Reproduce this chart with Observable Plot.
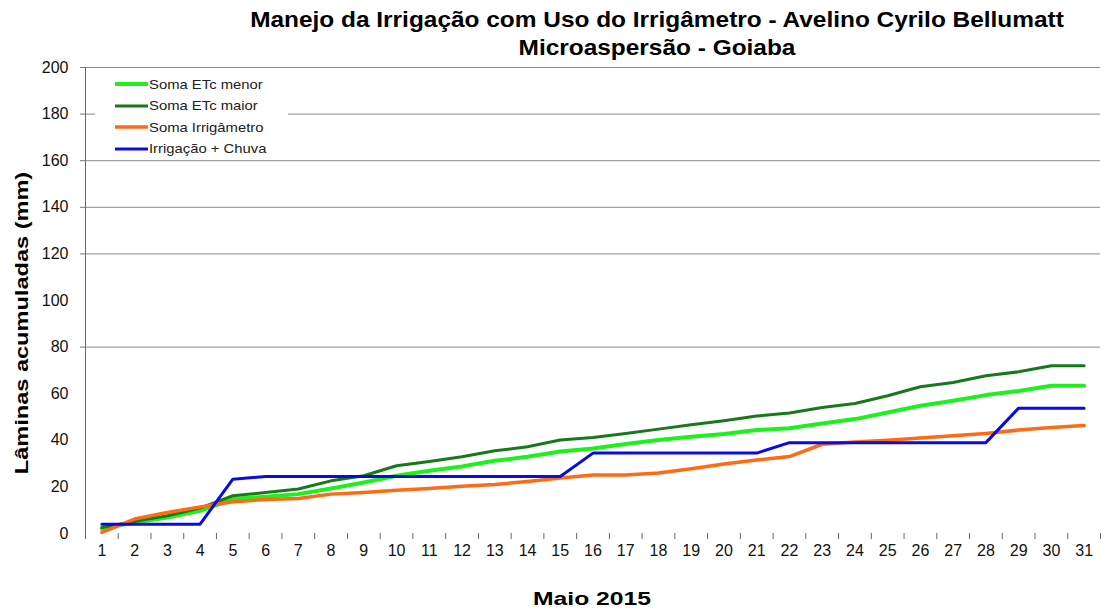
<!DOCTYPE html>
<html>
<head>
<meta charset="utf-8">
<script src="https://cdn.jsdelivr.net/npm/d3@7"></script>
<script src="https://cdn.jsdelivr.net/npm/@observablehq/plot@0.6"></script>
<style>
  html, body { margin: 0; padding: 0; background: #fff; }
  #wrap { position: relative; width: 1108px; height: 612px; font-family: "Liberation Sans", Arial, sans-serif; color: #000; overflow: hidden; }
  #title { position: absolute; left: 0; width: 1108px; top: 6px; text-align: center; font-weight: bold; font-size: 22px; line-height: 28px; padding-left: 206px; box-sizing: border-box; }
  #title div { transform: scaleX(1.11); }
  #chart { position: absolute; left: 0; top: 60px; }
  #ylabel { position: absolute; left: 22px; top: 323px; transform: translate(-50%, -50%) rotate(-90deg) scaleX(1.24); font-weight: bold; font-size: 19px; white-space: nowrap; }
  #xlabel { position: absolute; left: 592px; top: 599px; transform: translate(-50%, -50%) scaleX(1.3); font-weight: bold; font-size: 19px; white-space: nowrap; }
  #legend { position: absolute; left: 95px; top: 72px; width: 193px; height: 86px; background: #fff; font-size: 13px; color: #222; }
  #legend .row { position: absolute; left: 20px; height: 20px; display: flex; align-items: center; }
  #legend span { display: inline-block; transform: scaleX(1.14); transform-origin: left center; }
  #legend svg { width: 34px; height: 10px; }
</style>
</head>
<body>
<div id="wrap">
  <div id="title"><div>Manejo da Irrigação com Uso do Irrigâmetro - Avelino Cyrilo Bellumatt</div><div>Microaspersão - Goiaba</div></div>
  <div id="chart"></div>
  <div id="ylabel">Lâminas acumuladas (mm)</div>
  <div id="xlabel">Maio 2015</div>
  <div id="legend"></div>
</div>
<script>
const days = d3.range(1, 32);
const etcMenor = [2.1,4.7,6.9,9.7,14.8,15.8,16.9,19.3,21.9,24.8,26.9,28.8,31.2,32.9,35.2,36.5,38.4,40.1,41.5,42.7,44.4,45.2,47.2,49.1,51.9,54.8,57.0,59.4,61.2,63.4,63.4];
const etcMaior = [2.6,5.2,7.6,10.9,16.2,17.6,19.1,22.6,24.8,29.1,30.9,32.9,35.5,37.2,40.1,41.2,42.9,44.8,46.7,48.4,50.4,51.7,54.1,55.8,59.1,63.0,64.8,67.7,69.4,72.0,72.0];
const irrigametro = [0.5,6.2,9.0,11.4,13.6,14.6,15.0,16.9,17.6,18.6,19.3,20.3,21.0,22.3,23.8,25.1,25.1,26.0,27.8,29.8,31.5,33.0,38.3,39.3,40.0,41.0,42.0,42.9,44.4,45.5,46.4];
const irrigChuva = [4,4,4,4,23.3,24.5,24.5,24.5,24.5,24.5,24.5,24.5,24.5,24.5,24.5,34.5,34.5,34.5,34.5,34.5,34.5,39,39,39,39,39,39,39,53.8,53.8,53.8];

const seriesNames = ["Soma ETc menor", "Soma ETc maior", "Soma Irrigâmetro", "Irrigação + Chuva"];
const seriesColors = ["#1ef01e", "#17791a", "#ff6a13", "#0a0ae6"];
const seriesWidths = [4, 3, 3.5, 3];
const seriesValues = [etcMenor, etcMaior, irrigametro, irrigChuva];

const yTicks = d3.range(0, 201, 20);
const gridVals = [80, 120, 140, 160, 180, 200];
const xBoundaries = d3.range(0.5, 32, 1);

const rows = [];
seriesNames.forEach((name, i) => days.forEach((d, j) => rows.push({series: name, day: d, value: seriesValues[i][j]})));

const chart = Plot.plot({
  width: 1108,
  height: 552,
  marginLeft: 85,
  marginRight: 8,
  marginTop: 7,
  marginBottom: 79,
  style: {fontFamily: "Liberation Sans, Arial, sans-serif", fontSize: "16px", color: "#111", background: "transparent"},
  x: {type: "linear", domain: [0.5, 31.5]},
  y: {domain: [0, 200]},
  marks: [
    Plot.gridY(gridVals, {stroke: "#8a8a8a", strokeOpacity: 1, strokeWidth: 1}),
    Plot.axisY(gridVals, {tickSize: 5, tickFormat: () => "", stroke: "#777", label: null}),
    Plot.axisY(yTicks, {tickSize: 0, tickPadding: 17, fontSize: 16, label: null, fill: "#111"}),
    Plot.axisX(xBoundaries, {tickSize: 6, tickFormat: () => "", stroke: "#666", label: null}),
    Plot.axisX(days, {tickSize: 0, tickPadding: 11, fontSize: 16, label: null, fill: "#111", tickFormat: d => String(d)}),
    Plot.ruleX([0.5], {y1: 0, y2: 200, stroke: "#666", strokeWidth: 1}),
    ...seriesNames.map((name, i) => Plot.line(rows.filter(r => r.series === name), {
      x: "day", y: "value", stroke: seriesColors[i], strokeWidth: seriesWidths[i], strokeLinejoin: "round"
    }))
  ]
});
document.getElementById("chart").appendChild(chart);

const legend = document.getElementById("legend");
seriesNames.forEach((name, i) => {
  const row = document.createElement("div");
  row.className = "row";
  row.style.top = (2 + i * 21.5) + "px";
  row.innerHTML = `<svg viewBox="0 0 34 10"><line x1="0" x2="33" y1="5" y2="5" stroke="${seriesColors[i]}" stroke-width="${seriesWidths[i]}"/></svg><span>${name}</span>`;
  legend.appendChild(row);
});
</script>
</body>
</html>
